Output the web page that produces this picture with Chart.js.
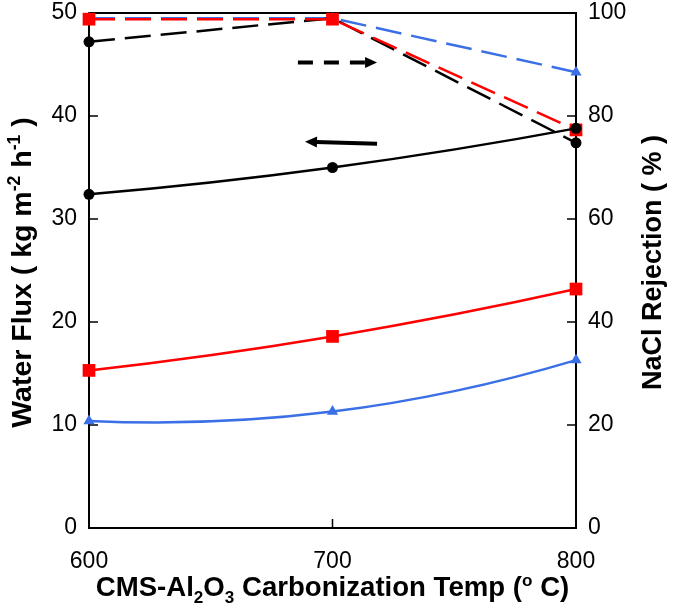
<!DOCTYPE html>
<html>
<head>
<meta charset="utf-8">
<script src="https://cdn.jsdelivr.net/npm/chart.js@4.4.1/dist/chart.umd.min.js"></script>
<style>
  html, body { margin: 0; padding: 0; background: #fff; }
  canvas { display: block; }
</style>
</head>
<body>
<canvas id="c" width="675" height="609"></canvas>
<script>
// ---- data ----
const temps = [600, 700, 800];
const xTickValues = [600, 700, 800];
const fluxTickValues = [0, 10, 20, 30, 40, 50];
const rejTickValues = [0, 20, 40, 60, 80, 100];

const fluxBlack = [32.4, 35.0, 38.8];
const fluxRed   = [15.3, 18.6, 23.2];
const fluxBlue  = [10.4, 11.3, 16.3];

const rejBlack = [94.4, 99.0, 74.8];
const rejRed   = [98.8, 98.8, 77.3];
const rejBlue  = [99.0, 99.0, 88.5];

// arrow annotations (data coordinates: temperature, water flux)
const arrowDashed = { from: [685.8, 45.2], to: [718.3, 45.2] };
const arrowSolid  = { from: [718.3, 37.3], to: [688.7, 37.5] };

// axis titles (text runs: normal / sub / sup)
const xTitle = [['CMS-Al', ''], ['2', 'sub'], ['O', ''], ['3', 'sub'], [' Carbonization Temp (', ''], ['o', 'sup'], [' C)', '']];
const yLeftTitle = [['Water Flux ( kg m', ''], ['-2', 'sup'], [' h', ''], ['-1', 'sup'], [' )', '']];
const yRightTitle = [['NaCl Rejection ( % )', '']];

// ---- styles ----
const BLACK = '#000000';
const RED = '#ff0000';
const BLUE = '#3b6fe6';
const FONT = "'Liberation Sans', Arial, Helvetica, sans-serif";

function pts(xs, ys) { return xs.map((x, i) => ({ x: x, y: ys[i] })); }

const solidBase = { borderWidth: 2.5, tension: 0.4, clip: false, fill: false, quadFit: true };
const dashBase = { borderWidth: 2.5, tension: 0, borderDash: [26, 10], clip: false, fill: false };

const datasets = [
  Object.assign({}, dashBase, { label: 'Rej blue', data: pts(temps, rejBlue), yAxisID: 'yR', borderColor: BLUE, backgroundColor: BLUE, pointStyle: 'triangle', pointRadius: 6.5, order: 6 }),
  Object.assign({}, dashBase, { label: 'Rej black', data: pts(temps, rejBlack), yAxisID: 'yR', borderColor: BLACK, backgroundColor: BLACK, pointStyle: 'circle', pointRadius: 5.5, order: 5 }),
  Object.assign({}, dashBase, { label: 'Rej red', data: pts(temps, rejRed), yAxisID: 'yR', borderColor: RED, backgroundColor: RED, pointStyle: 'rect', pointRadius: 9, order: 4 }),
  Object.assign({}, solidBase, { label: 'Flux blue', data: pts(temps, fluxBlue), yAxisID: 'yL', borderColor: BLUE, backgroundColor: BLUE, pointStyle: 'triangle', pointRadius: 6.5, order: 3 }),
  Object.assign({}, solidBase, { label: 'Flux red', data: pts(temps, fluxRed), yAxisID: 'yL', borderColor: RED, backgroundColor: RED, pointStyle: 'rect', pointRadius: 9, order: 2 }),
  Object.assign({}, solidBase, { label: 'Flux black', data: pts(temps, fluxBlack), yAxisID: 'yL', borderColor: BLACK, backgroundColor: BLACK, pointStyle: 'circle', pointRadius: 5.5, order: 1 })
];
datasets.forEach(d => { d.pointBorderWidth = 0; d.pointHoverRadius = d.pointRadius; });

function richWidth(ctx, runs, size) {
  let w = 0;
  runs.forEach(r => {
    const s = r[1] ? size * 0.62 : size;
    ctx.font = 'bold ' + s + 'px ' + FONT;
    w += ctx.measureText(r[0]).width;
  });
  return w;
}
function drawRich(ctx, runs, size, cx, baseline, angle) {
  ctx.save();
  ctx.translate(cx, baseline);
  ctx.rotate(angle);
  const total = richWidth(ctx, runs, size);
  let x = -total / 2;
  ctx.fillStyle = '#000';
  ctx.textBaseline = 'alphabetic';
  ctx.textAlign = 'left';
  runs.forEach(r => {
    const s = r[1] ? size * 0.62 : size;
    ctx.font = 'bold ' + s + 'px ' + FONT;
    let dy = 0;
    if (r[1] === 'sub') dy = size * 0.26;
    if (r[1] === 'sup') dy = -size * 0.38;
    ctx.fillText(r[0], x, dy);
    x += ctx.measureText(r[0]).width;
  });
  ctx.restore();
}
function drawArrow(ctx, x1, y1, x2, y2, dash) {
  const ang = Math.atan2(y2 - y1, x2 - x1);
  const head = 12, half = 5.5;
  const bx = x2 - head * Math.cos(ang), by = y2 - head * Math.sin(ang);
  ctx.save();
  ctx.strokeStyle = '#000';
  ctx.fillStyle = '#000';
  ctx.lineWidth = 4;
  ctx.lineCap = 'butt';
  ctx.setLineDash(dash ? [15, 11] : []);
  ctx.beginPath();
  ctx.moveTo(x1, y1);
  ctx.lineTo(bx + 1 * Math.cos(ang), by + 1 * Math.sin(ang));
  ctx.stroke();
  ctx.setLineDash([]);
  ctx.beginPath();
  ctx.moveTo(x2, y2);
  ctx.lineTo(bx - half * Math.sin(ang), by + half * Math.cos(ang));
  ctx.lineTo(bx + half * Math.sin(ang), by - half * Math.cos(ang));
  ctx.closePath();
  ctx.fill();
  ctx.restore();
}

// Solid flux curves in the reference are quadratic fits through the three points.
// Set the library's bezier control points so each segment follows that parabola.
const quadCurve = {
  id: 'quadCurve',
  beforeDatasetDraw(chart, args) {
    const ds = chart.data.datasets[args.index];
    if (!ds.quadFit) return;
    const meta = args.meta;
    const line = meta.dataset;
    line.updateControlPoints(chart.chartArea, meta.iAxis);
    const p = meta.data;
    if (p.length !== 3) return;
    const h = p[1].x - p[0].x;
    const y0 = p[0].y, y1 = p[1].y, y2 = p[2].y;
    const s = [(-3 * y0 + 4 * y1 - y2) / (2 * h), (y2 - y0) / (2 * h), (y0 - 4 * y1 + 3 * y2) / (2 * h)];
    for (let i = 0; i < 3; i++) {
      p[i].cp1x = p[i].x - h / 3; p[i].cp1y = p[i].y - s[i] * h / 3;
      p[i].cp2x = p[i].x + h / 3; p[i].cp2y = p[i].y + s[i] * h / 3;
    }
  }
};

const decor = {
  id: 'decor',
  beforeDatasetsDraw(chart) {
    const ctx = chart.ctx, ca = chart.chartArea;
    const sx = chart.scales.x, sl = chart.scales.yL, sr = chart.scales.yR;
    ctx.save();
    ctx.strokeStyle = '#000';
    ctx.lineWidth = 2;
    ctx.beginPath();
    ctx.moveTo(ca.left - 1, ca.top);
    ctx.lineTo(ca.right + 1, ca.top);
    ctx.stroke();
    ctx.lineWidth = 1.5;
    const L = 9;
    ctx.beginPath();
    fluxTickValues.forEach(v => { const y = sl.getPixelForValue(v); ctx.moveTo(ca.left, y); ctx.lineTo(ca.left + L, y); });
    rejTickValues.forEach(v => { const y = sr.getPixelForValue(v); ctx.moveTo(ca.right, y); ctx.lineTo(ca.right - L, y); });
    xTickValues.forEach(v => { const x = sx.getPixelForValue(v); ctx.moveTo(x, ca.bottom); ctx.lineTo(x, ca.bottom - L); });
    ctx.stroke();
    ctx.restore();
  },
  afterDatasetsDraw(chart) {
    const ctx = chart.ctx, ca = chart.chartArea;
    const sx = chart.scales.x, sl = chart.scales.yL;
    drawArrow(ctx, sx.getPixelForValue(arrowDashed.from[0]), sl.getPixelForValue(arrowDashed.from[1]),
      sx.getPixelForValue(arrowDashed.to[0]), sl.getPixelForValue(arrowDashed.to[1]), true);
    drawArrow(ctx, sx.getPixelForValue(arrowSolid.from[0]), sl.getPixelForValue(arrowSolid.from[1]),
      sx.getPixelForValue(arrowSolid.to[0]), sl.getPixelForValue(arrowSolid.to[1]), false);
    const cx = (ca.left + ca.right) / 2, cy = (ca.top + ca.bottom) / 2;
    drawRich(ctx, xTitle, 27.6, cx, 596, 0);
    drawRich(ctx, yLeftTitle, 28.5, 31, cy + 2, -Math.PI / 2);
    drawRich(ctx, yRightTitle, 27, 661, cy - 8, -Math.PI / 2);
  }
};

Chart.defaults.font.family = FONT;
Chart.defaults.color = '#000';

function fixY(w) {
  return s => { s.width = w; s.paddingTop = 13; s.paddingBottom = 0; };
}

new Chart(document.getElementById('c'), {
  type: 'line',
  data: { datasets: datasets },
  options: {
    responsive: false,
    animation: false,
    devicePixelRatio: 1,
    layout: { padding: { top: 0, left: 0, right: 0, bottom: 0 } },
    plugins: { legend: { display: false }, tooltip: { enabled: false } },
    scales: {
      x: {
        type: 'linear', min: 600, max: 800,
        afterBuildTicks: s => { s.ticks = xTickValues.map(v => ({ value: v })); },
        afterFit: s => { s.height = 81; s.paddingLeft = 0; s.paddingRight = 0; },
        grid: { display: false, drawTicks: false },
        border: { display: true, color: '#000', width: 2 },
        ticks: { font: { size: 23 }, padding: 20, maxRotation: 0, autoSkip: false, callback: v => String(v) }
      },
      yL: {
        type: 'linear', position: 'left', min: 0, max: 50,
        afterBuildTicks: s => { s.ticks = fluxTickValues.map(v => ({ value: v })); },
        afterFit: fixY(89),
        grid: { display: false, drawTicks: false },
        border: { display: true, color: '#000', width: 2 },
        ticks: { font: { size: 23 }, padding: 12, callback: v => String(v) }
      },
      yR: {
        type: 'linear', position: 'right', min: 0, max: 100,
        afterBuildTicks: s => { s.ticks = rejTickValues.map(v => ({ value: v })); },
        afterFit: fixY(99),
        grid: { display: false, drawTicks: false },
        border: { display: true, color: '#000', width: 2 },
        ticks: { font: { size: 23 }, padding: 12, callback: v => String(v) }
      }
    }
  },
  plugins: [quadCurve, decor]
});
</script>
</body>
</html>
